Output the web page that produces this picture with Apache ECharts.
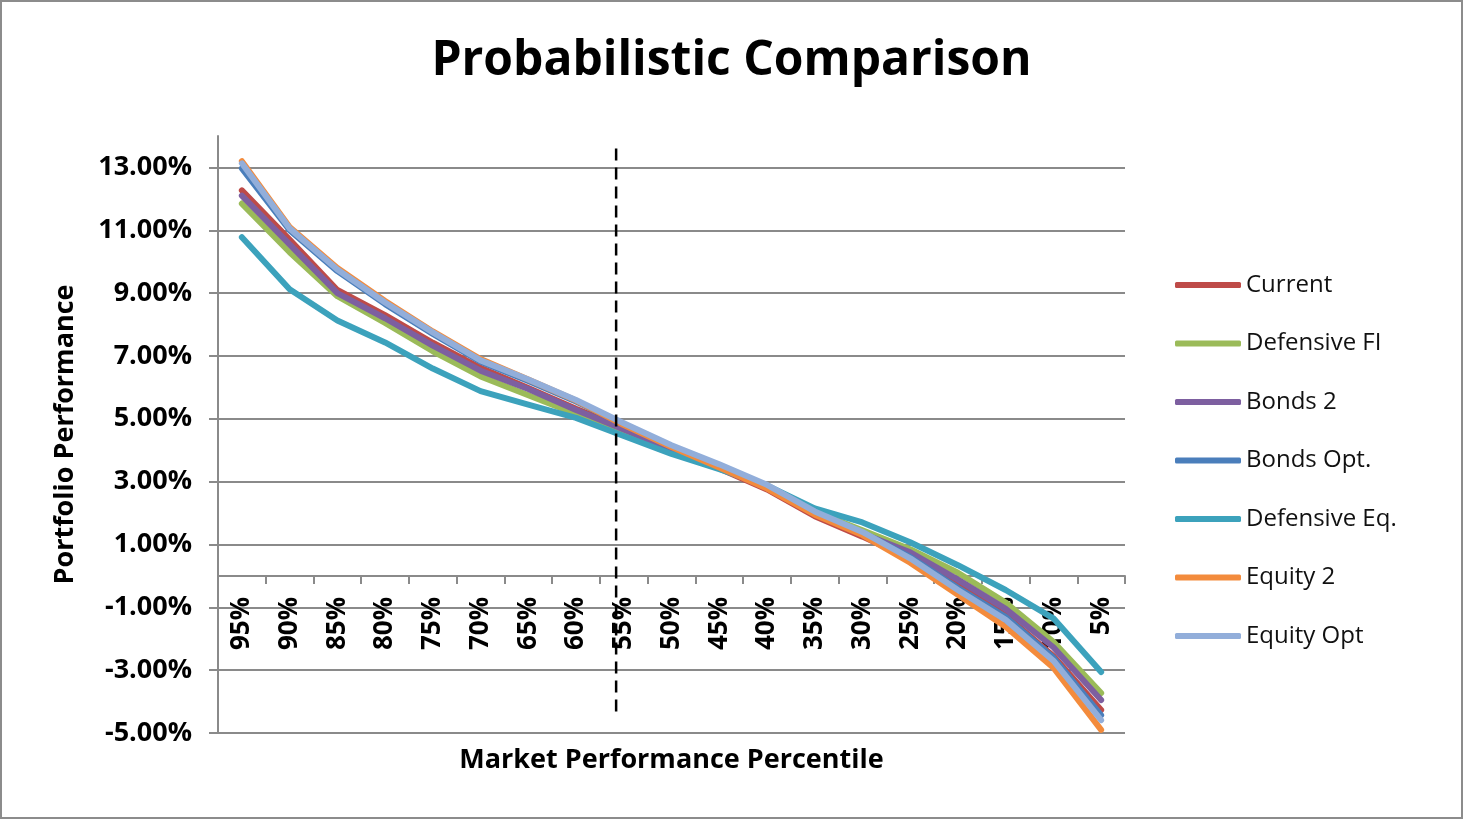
<!DOCTYPE html>
<html>
<head>
<meta charset="utf-8">
<script src="https://cdn.jsdelivr.net/npm/echarts@6/dist/echarts.min.js"></script>
<style>
  html, body { margin: 0; padding: 0; background: #fff; }
  #chart { width: 1463px; height: 819px; }
</style>
</head>
<body>
<div id="chart"></div>
<script>
// Market performance percentiles (category axis)
const categories = ['95%','90%','85%','80%','75%','70%','65%','60%','55%','50%','45%','40%','35%','30%','25%','20%','15%','10%','5%'];

// Portfolio performance per percentile, in percent
const current      = [12.27, 10.70, 9.10, 8.30, 7.42, 6.62, 5.98, 5.32, 4.70, 4.05, 3.42, 2.75, 1.90, 1.25, 0.55, -0.30, -1.25, -2.55, -4.27];
const defensiveFI  = [11.85, 10.30, 8.90, 8.05, 7.15, 6.35, 5.75, 5.15, 4.60, 4.02, 3.45, 2.85, 2.05, 1.45, 0.85, 0.10, -0.85, -2.10, -3.73];
const bonds2       = [12.10, 10.55, 9.00, 8.20, 7.33, 6.53, 5.95, 5.28, 4.66, 4.03, 3.44, 2.80, 2.00, 1.35, 0.75, -0.12, -1.05, -2.27, -3.95];
const bondsOpt     = [12.97, 11.00, 9.70, 8.65, 7.70, 6.82, 6.20, 5.55, 4.82, 4.12, 3.50, 2.85, 2.00, 1.38, 0.60, -0.38, -1.30, -2.60, -4.43];
const defensiveEq  = [10.78, 9.12, 8.13, 7.43, 6.60, 5.88, 5.45, 5.03, 4.45, 3.88, 3.40, 2.88, 2.15, 1.70, 1.07, 0.34, -0.45, -1.35, -3.06];
const equity2      = [13.20, 11.10, 9.80, 8.75, 7.78, 6.90, 6.25, 5.58, 4.80, 4.10, 3.45, 2.78, 1.95, 1.30, 0.42, -0.60, -1.62, -2.92, -4.90];
const equityOpt    = [13.13, 11.06, 9.75, 8.70, 7.75, 6.86, 6.25, 5.60, 4.86, 4.16, 3.55, 2.90, 2.05, 1.40, 0.56, -0.45, -1.40, -2.70, -4.59];

// Value axis range and step (percent)
const yMin = -5, yMax = 14, yStep = 2;

// Vertical marker: percentile and its vertical extent (percent)
const markerPercentile = 55.8;
const markerRange = [13.6, -4.5];

const seriesDefs = [
  { name: 'Current',       data: current,     color: '#BE4B48' },
  { name: 'Defensive FI',  data: defensiveFI, color: '#9BBB59' },
  { name: 'Bonds 2',       data: bonds2,      color: '#7D5FA0' },
  { name: 'Bonds Opt.',    data: bondsOpt,    color: '#4A7EBB' },
  { name: 'Defensive Eq.', data: defensiveEq, color: '#3CA2BC' },
  { name: 'Equity 2',      data: equity2,     color: '#F38B3C' },
  { name: 'Equity Opt',    data: equityOpt,   color: '#92AEDA' }
];

const FONT = '"Open Sans", "Noto Sans", sans-serif';
const GRID_COLOR = '#8a8a8a';

const chart = echarts.init(document.getElementById('chart'), null, { renderer: 'canvas' });

const lineSeries = seriesDefs.map(s => ({
  name: s.name,
  type: 'line',
  data: s.data,
  xAxisIndex: 0,
  yAxisIndex: 0,
  symbol: 'none',
  smooth: false,
  color: s.color,
  lineStyle: { width: 6, color: s.color, cap: 'round', join: 'round' },
  emphasis: { disabled: true },
  z: 3
}));

const option = {
  animation: false,
  backgroundColor: '#fff',
  title: {
    text: 'Probabilistic Comparison',
    left: 'center',
    top: 32,
    textStyle: { fontFamily: FONT, fontWeight: 'bold', fontSize: 48, color: '#000' }
  },
  legend: {
    orient: 'vertical',
    left: 1170,
    top: 267,
    itemWidth: 66,
    itemHeight: 6,
    itemGap: 32.5,
    icon: 'roundRect',
    data: seriesDefs.map(s => s.name),
    textStyle: { fontFamily: FONT, fontSize: 24, color: '#111', lineHeight: 26 }
  },
  grid: { left: 218, right: 338, top: 136, bottom: 86, containLabel: false, outerBoundsMode: 'none' },
  xAxis: [
    {
      type: 'category',
      data: categories,
      boundaryGap: true,
      offset: 0,
      axisLine: { onZero: false, lineStyle: { color: GRID_COLOR, width: 2 } },
      axisTick: { show: true, length: 8, lineStyle: { color: GRID_COLOR, width: 2 } },
      axisLabel: {
        rotate: 90,
        margin: 21,
        color: '#000',
        fontFamily: FONT,
        fontWeight: 'bold',
        fontSize: 26
      },
      name: 'Market Performance Percentile',
      nameLocation: 'middle',
      nameGap: 12,
      nameMoveOverlap: false,
      nameTextStyle: { fontFamily: FONT, fontWeight: 'bold', fontSize: 27, color: '#000' },
      splitLine: { show: false }
    },
    {
      type: 'value',
      show: false,
      inverse: true,
      min: 2.5,
      max: 97.5
    }
  ],
  yAxis: {
    type: 'value',
    min: yMin,
    max: yMax,
    interval: yStep,
    axisLine: { show: true, lineStyle: { color: GRID_COLOR, width: 2 } },
    axisTick: { show: true, length: 9, lineStyle: { color: GRID_COLOR, width: 2 } },
    axisLabel: {
      margin: 26,
      color: '#000',
      fontFamily: FONT,
      fontWeight: 'bold',
      fontSize: 27,
      showMaxLabel: false,
      formatter: v => v.toFixed(2) + '%'
    },
    splitLine: { show: true, showMaxLine: false, lineStyle: { color: GRID_COLOR, width: 2 } },
    name: 'Portfolio Performance',
    nameLocation: 'middle',
    nameGap: 139,
    nameRotate: 90,
    nameMoveOverlap: false,
    nameTextStyle: { fontFamily: FONT, fontWeight: 'bold', fontSize: 27, color: '#000' }
  },
  graphic: [
    {
      type: 'rect',
      shape: { x: 1, y: 1, width: 1461, height: 817 },
      style: { fill: null, stroke: '#8c8c8c', lineWidth: 2 },
      silent: true
    }
  ],
  series: [
    ...lineSeries,
    {
      name: 'marker',
      type: 'line',
      xAxisIndex: 1,
      yAxisIndex: 0,
      data: markerRange.map(v => [markerPercentile, v]),
      symbol: 'none',
      lineStyle: { color: '#000', width: 2.5, type: [12, 7] },
      emphasis: { disabled: true },
      z: 4
    }
  ]
};

chart.setOption(option);

// Lift the category axis (line, ticks, labels) to the zero level of the value axis;
// the axis title stays under the plot area.
const zeroY = chart.convertToPixel({ yAxisIndex: 0 }, 0);
const bottomY = chart.convertToPixel({ yAxisIndex: 0 }, yMin);
const lift = bottomY - zeroY;
chart.setOption({
  xAxis: [
    { offset: -lift, nameGap: 14 + lift },
    {}
  ]
});
</script>
</body>
</html>
